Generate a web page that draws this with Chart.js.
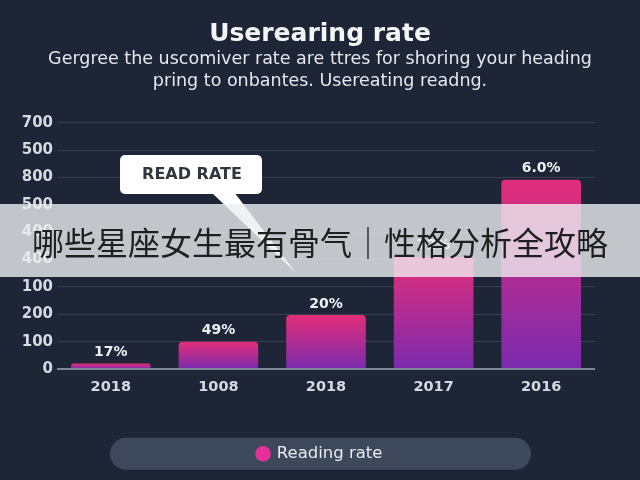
<!DOCTYPE html>
<html>
<head>
<meta charset="utf-8">
<script src="https://cdn.jsdelivr.net/npm/chart.js@4"></script>
<style>
  html, body { margin: 0; padding: 0; background: #1d2536; }
  #wrap { position: relative; width: 640px; height: 480px; }
  #banner {
    position: absolute; left: 0; top: 204px; width: 640px; height: 73px;
    background: rgba(236, 237, 240, 0.80);
    color: #1f1f1f; font-family: "Noto Sans CJK SC", sans-serif;
    font-size: 32px; line-height: 75px; text-align: center; white-space: nowrap;
  }
</style>
</head>
<body>
<div id="wrap">
  <canvas id="c" width="640" height="480"></canvas>
  <div id="banner">哪些星座女生最有骨气｜性格分析全攻略</div>
</div>
<script>
const categories = ['2018', '1008', '2018', '2017', '2016'];
const readingRate = [20, 100, 198, 410, 692];
const barLabels = ['17%', '49%', '20%', '72%', '6.0%'];
const yTickLabels = ['0', '100', '200', '100', '400', '400', '500', '800', '500', '700'];
const titleText = 'Userearing rate';
const subtitleLines = ['Gergree the uscomiver rate are ttres for shoring your heading', 'pring to onbantes. Usereating readng.'];
const seriesName = 'Reading rate';
const calloutText = 'READ RATE';

const FONT = '"DejaVu Sans", sans-serif';

const barGradient = (ctx) => {
  const chart = ctx.chart;
  const area = chart.chartArea;
  if (!area || ctx.type !== 'data') return '#c02a8a';
  const ys = chart.scales.y;
  const top = ys.getPixelForValue(ctx.raw);
  const base = ys.getPixelForValue(0);
  const g = chart.ctx.createLinearGradient(0, top, 0, base);
  g.addColorStop(0, '#e22e78');
  g.addColorStop(1, '#7a2bae');
  return g;
};

const decorPlugin = {
  id: 'decor',
  beforeDraw(chart) {
    const c = chart.ctx;
    const lg = chart.legend;
    if (lg && lg.legendHitBoxes && lg.legendHitBoxes.length) {
      const hb = lg.legendHitBoxes[0];
      const cy = hb.top + hb.height / 2;
      const x0 = 110, x1 = 531, h = 32;
      c.save();
      c.fillStyle = '#3e485b';
      c.beginPath();
      c.roundRect(x0, cy - h / 2, x1 - x0, h, h / 2);
      c.fill();
      c.restore();
    }
  },
  afterDatasetsDraw(chart) {
    const c = chart.ctx;
    const meta = chart.getDatasetMeta(0);
    c.save();
    c.font = 'bold 14px ' + FONT;
    c.fillStyle = '#eef0f4';
    c.textAlign = 'center';
    c.textBaseline = 'middle';
    meta.data.forEach((bar, i) => {
      c.fillText(barLabels[i], bar.x, bar.y - 11);
    });
    // callout
    c.fillStyle = '#ffffff';
    c.beginPath();
    c.roundRect(120, 155, 142, 39, 5);
    c.fill();
    c.beginPath();
    c.moveTo(211, 192);
    c.lineTo(234, 192);
    c.lineTo(296, 273);
    c.closePath();
    c.fill();
    c.fillStyle = '#33363d';
    c.font = 'bold 16px ' + FONT;
    c.fillText(calloutText, 192, 175);
    c.restore();
  }
};

new Chart(document.getElementById('c'), {
  type: 'bar',
  data: {
    labels: categories,
    datasets: [{
      label: seriesName,
      data: readingRate,
      backgroundColor: barGradient,
      borderRadius: { topLeft: 4, topRight: 4 },
      borderSkipped: 'bottom',
      barPercentage: 0.74,
      categoryPercentage: 1.0
    }]
  },
  options: {
    responsive: false,
    animation: false,
    devicePixelRatio: 1,
    layout: { padding: { left: 0, right: 0, bottom: 8 } },
    plugins: {
      title: {
        display: true, text: titleText, color: '#f4f5f7',
        font: { family: FONT, size: 25, weight: 'bold' },
        padding: { top: 19, bottom: 0 }
      },
      subtitle: {
        display: true, text: subtitleLines, color: '#e6e8ec',
        font: { family: FONT, size: 17.5, lineHeight: 1.22 },
        padding: { top: 0, bottom: 31 }
      },
      legend: {
        display: true, position: 'bottom',
        labels: {
          color: '#e8eaee', font: { family: FONT, size: 16.5 },
          usePointStyle: true, pointStyle: 'circle', boxWidth: 11, boxHeight: 11,
          padding: 22,
          generateLabels: (chart) => [{
            text: seriesName, fillStyle: '#e5309a', strokeStyle: '#e5309a',
            lineWidth: 0, pointStyle: 'circle', datasetIndex: 0, fontColor: '#e8eaee'
          }]
        }
      },
      tooltip: { enabled: false }
    },
    scales: {
      x: {
        grid: { display: false },
        border: { display: false },
        ticks: { color: '#d6d9df', font: { family: FONT, size: 14.5, weight: 'bold' }, padding: 1 },
        afterFit: (scale) => { scale.height += 27; }
      },
      y: {
        min: 0, max: 900,
        border: { display: false },
        grid: {
          drawTicks: false,
          color: (ctx) => ctx.index === 0 ? '#7e8797' : 'rgba(150,160,180,0.22)',
          lineWidth: (ctx) => ctx.index === 0 ? 2 : 1
        },
        ticks: {
          stepSize: 100, color: '#d6d9df', padding: 4,
          font: { family: FONT, size: 15, weight: 'bold' },
          callback: (v, i) => yTickLabels[i]
        },
        afterFit: (scale) => { scale.width = 57; }
      },
      yRight: {
        type: 'linear', position: 'right', min: 0, max: 1,
        grid: { display: false },
        border: { display: false },
        ticks: { display: false },
        afterFit: (scale) => { scale.width = 45; }
      }
    }
  },
  plugins: [decorPlugin]
});
</script>
</body>
</html>
